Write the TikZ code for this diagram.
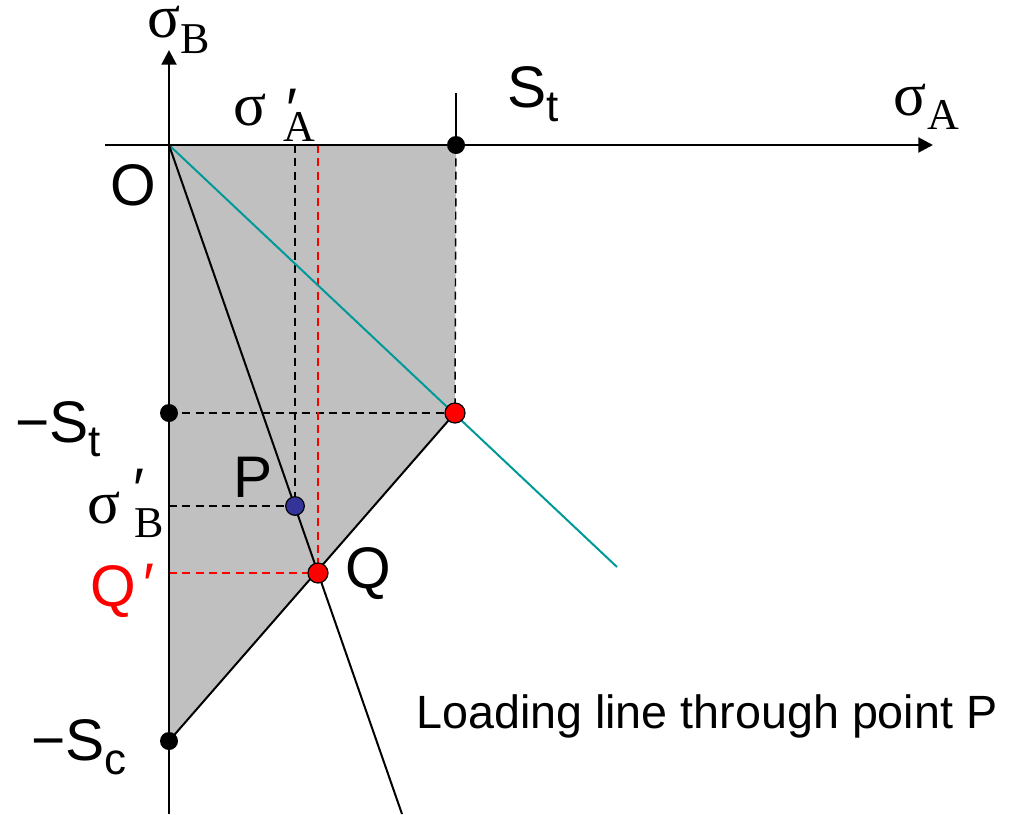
\documentclass[tikz,border=0pt]{standalone}
\usepackage{fontspec}
\setmainfont{Liberation Sans}
\newfontfamily\greekfont{Liberation Serif}
\usetikzlibrary{arrows.meta}

\definecolor{regiongray}{RGB}{192,192,192}
\definecolor{loadteal}{RGB}{0,153,153}
\definecolor{pointblue}{RGB}{51,51,153}

\newcommand{\bigfont}{\fontsize{44}{50}\selectfont}
\newcommand{\subfont}{\fontsize{33}{38}\selectfont}
\newcommand{\sg}{{\fontsize{46}{50}\greekfont σ}}
\newcommand{\gsub}[2]{\raisebox{-#1}{\fontsize{33}{38}\greekfont #2}}
\newcommand{\ssub}[2]{\raisebox{-#1}{\subfont #2}}
\newcommand{\prm}[1]{\raisebox{#1}{\bigfont ′}}

\begin{document}
\begin{tikzpicture}[x=0.75pt, y=-0.75pt,
  axis/.style={line width=2.2pt, -{Triangle[length=11pt,width=11pt]}},
  guide/.style={line width=1.1pt, dash pattern=on 6pt off 4pt},
  thinline/.style={line width=1.5pt},
  blackdot/.style={circle, fill=black, inner sep=0pt, minimum size=13.5pt},
  reddot/.style={circle, fill=red, draw=black, line width=0.9pt, inner sep=0pt, minimum size=15pt},
  bluedot/.style={circle, fill=pointblue, draw=black, line width=0.9pt, inner sep=0pt, minimum size=14pt},
  lbl/.style={inner sep=0pt, anchor=base west, font=\bigfont}]
  \useasboundingbox (0,0) rectangle (1030,814);

  % key points
  \coordinate (O) at (169,145);
  \coordinate (St) at (456,145);
  \coordinate (mSt) at (169,413);
  \coordinate (mSc) at (169,741);
  \coordinate (C) at (455,413);
  \coordinate (P) at (295,506);
  \coordinate (Q) at (318,573);
  \coordinate (xstart) at (105,145);
  \coordinate (xtip) at (933,145);
  \coordinate (ybot) at (169,814);
  \coordinate (ytip) at (169,50);
  \coordinate (Sttop) at (456,93);
  \coordinate (tealend) at (617,567);
  \coordinate (loadend) at (402,814);

  % safe region
  \fill[regiongray] (O) -- (St) -- (C) -- (mSc) -- cycle;

  % projections
  \draw[guide] (St) -- (C);
  \draw[guide] (mSt) -- (C);
  \draw[guide] (P |- O) -- (P);
  \draw[guide] (P -| O) -- (P);
  \draw[guide, red] (Q |- O) -- (Q);
  \draw[guide, red] (Q -| O) -- (Q);

  % boundary and loading lines
  \draw[thinline] (C) -- (mSc);
  \draw[thinline, loadteal] (O) -- (tealend);
  \draw[thinline] (O) -- (loadend);
  \draw[line width=1pt] (Sttop) -- (St);

  % axes
  \draw[axis] (xstart) -- (xtip);
  \draw[axis] (ybot) -- (ytip);

  % points
  \node[blackdot] (dSt) at (St) {};
  \node[blackdot] (dmSt) at (mSt) {};
  \node[blackdot] (dmSc) at (mSc) {};
  \node[reddot] (dC) at (C) {};
  \node[reddot] (dQ) at (Q) {};
  \node[bluedot] (dP) at (P) {};

  % labels
  \node[lbl, text height=20pt] (lsB) at (147,37) {\sg\gsub{12pt}{B}};
  \node[lbl] (lsA) at (893,115) {\sg\hspace{1pt}\gsub{11pt}{A}};
  \node[lbl] (lsAp) at (233,125) {\sg\hspace{15pt}\rlap{\prm{-3pt}}\hspace{-2pt}\gsub{12.5pt}{A}};
  \node[lbl] (lsBp) at (87,523) {\sg\hspace{10pt}\rlap{\prm{10pt}}\hspace{1pt}\gsub{11pt}{B}};
  \node[lbl] (lSt) at (507,107) {S\ssub{11pt}{t}};
  \node[lbl] (lmSt) at (15,442) {−S\ssub{11pt}{t}};
  \node[lbl] (lmSc) at (31,760) {−S\ssub{11pt}{c}};
  \node[lbl] (lO) at (110,205) {O};
  \node[lbl] (lP) at (233,497) {P};
  \node[lbl] (lQ) at (345,588) {Q};
  \node[lbl, red] (lQp) at (90,606) {Q\hspace{6pt}\prm{1pt}};
  \node[lbl, font=\fontsize{35}{40}\selectfont] (lload) at (416,728) {Loading line through point P};
\end{tikzpicture}
\end{document}
